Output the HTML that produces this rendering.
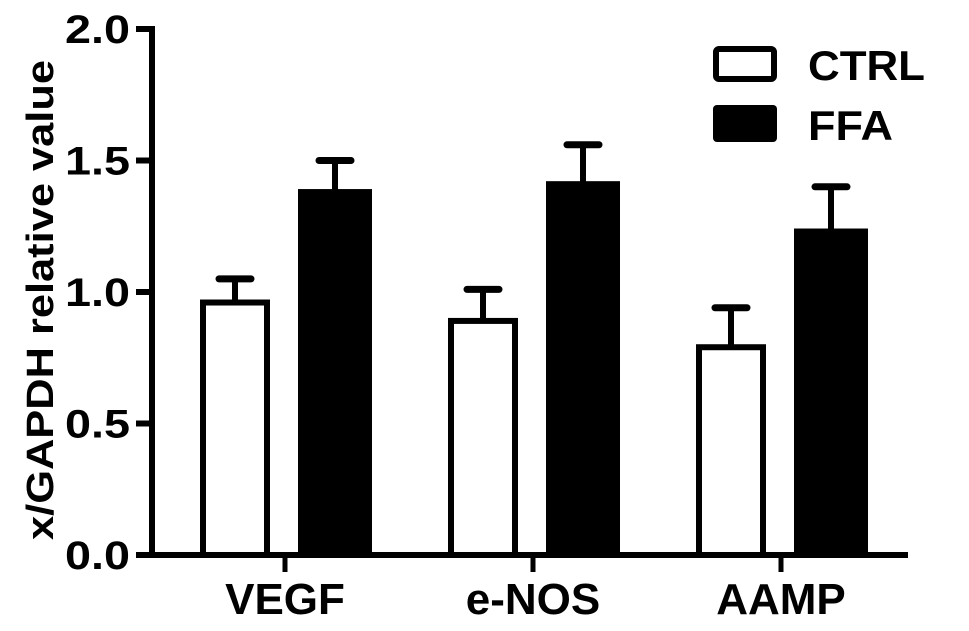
<!DOCTYPE html>
<html><head><meta charset="utf-8"><style>
body{margin:0;background:#fff;}
text{font-family:"Liberation Sans",Arial,sans-serif;font-weight:bold;fill:#000;}
</style></head><body>
<svg id="chart" width="969" height="626" xmlns="http://www.w3.org/2000/svg">
<g id="g"></g>
</svg>
<script>
const categories=["VEGF","e-NOS","AAMP"];
const ctrlValues=[0.96,0.89,0.79];
const ctrlErrors=[0.09,0.12,0.15];
const ffaValues=[1.38,1.41,1.23];
const ffaErrors=[0.12,0.15,0.17];
const yTicks=["0.0","0.5","1.0","1.5","2.0"];
const NS="http://www.w3.org/2000/svg";
const g=document.getElementById('g');
const y0=555, pxPerUnit=263, axisX=152;
function yScale(v){return y0-v*pxPerUnit;}
function xCenter(i){return 285+i*248;}
function mk(tag,attrs,parent){const e=document.createElementNS(NS,tag);for(const k in attrs)e.setAttribute(k,attrs[k]);(parent||g).appendChild(e);return e;}
let e;
e=mk('line',{x1:axisX,y1:yScale(2)-3,x2:axisX,y2:y0+3,stroke:'#000','stroke-width':6});


e=mk('line',{x1:axisX-3,y1:y0,x2:908,y2:y0,stroke:'#000','stroke-width':6});


yTicks.forEach(t=>{const y=yScale(parseFloat(t));
 e=mk('line',{x1:136,y1:y,x2:axisX,y2:y,stroke:'#000','stroke-width':6});
 
 
 e=mk('text',{x:130,y:y+14,'text-anchor':'end','font-size':40,textLength:65,lengthAdjust:'spacingAndGlyphs'});e.textContent=t;
 
 
});
categories.forEach((c,i)=>{const cx=xCenter(i);
 e=mk('line',{x1:cx,y1:y0,x2:cx,y2:572,stroke:'#000','stroke-width':5});
 
 
 e=mk('text',{x:cx,y:614,'text-anchor':'middle','font-size':44});e.textContent=c;
 
 
 const cl=cx-82, cr=cx-18, cmid=(cl+cr)/2;
 const ce=yScale(ctrlValues[i]+ctrlErrors[i]);
 e=mk('line',{x1:cmid,y1:ce,x2:cmid,y2:yScale(ctrlValues[i]),stroke:'#000','stroke-width':6});
 
 
 e=mk('line',{x1:cmid-16,y1:ce,x2:cmid+16,y2:ce,stroke:'#000','stroke-width':7,'stroke-linecap':'round'});
 
 
 e=mk('rect',{x:cl,y:yScale(ctrlValues[i]),width:cr-cl,height:y0-yScale(ctrlValues[i]),fill:'#fff',stroke:'#000','stroke-width':6});
 
 
 const fl=cx+13, fr=cx+87, fmid=(fl+fr)/2;
 const fe=yScale(ffaValues[i]+ffaErrors[i]);
 e=mk('line',{x1:fmid,y1:fe,x2:fmid,y2:yScale(ffaValues[i]),stroke:'#000','stroke-width':6});
 
 
 e=mk('line',{x1:fmid-16,y1:fe,x2:fmid+16,y2:fe,stroke:'#000','stroke-width':7,'stroke-linecap':'round'});
 
 
 e=mk('rect',{x:fl,y:yScale(ffaValues[i])-3,width:fr-fl,height:y0-yScale(ffaValues[i])+3,fill:'#000'});
 
 
});
e=mk('text',{x:0,y:0,'text-anchor':'middle','font-size':38,textLength:480,lengthAdjust:'spacingAndGlyphs',transform:'translate(53,300) rotate(-90)'});e.textContent='x/GAPDH relative value';


e=mk('rect',{x:716,y:49,width:58,height:30,rx:3,fill:'#fff',stroke:'#000','stroke-width':6});


e=mk('text',{x:808,y:80,'font-size':42,textLength:117,lengthAdjust:'spacingAndGlyphs'});e.textContent='CTRL';


e=mk('rect',{x:713,y:105,width:64,height:37,rx:4,fill:'#000'});


e=mk('text',{x:808,y:140,'font-size':42,textLength:85,lengthAdjust:'spacingAndGlyphs'});e.textContent='FFA';


</script>
</body></html>
